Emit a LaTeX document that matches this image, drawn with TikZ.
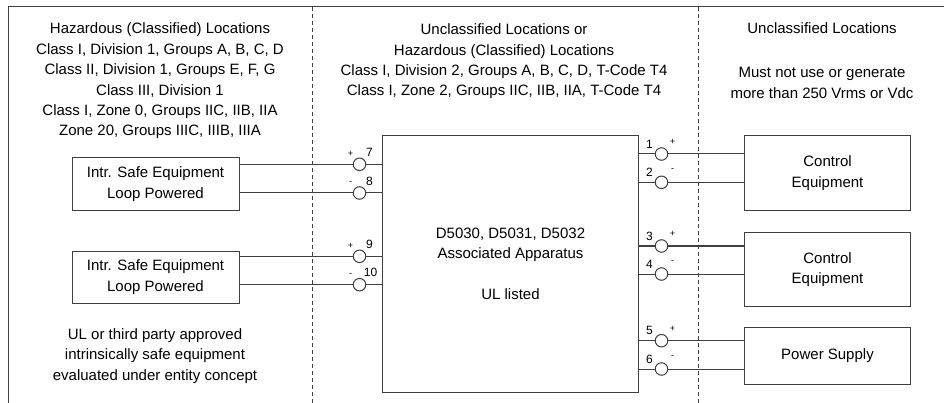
\documentclass[tikz,border=0pt]{standalone}
\usepackage{fontspec}
\setmainfont{Liberation Sans}
\usetikzlibrary{positioning}

\begin{document}
\begin{tikzpicture}[x=1pt, y=-1pt, line width=1pt,
    wire/.style={draw=black!75},
    txt/.style={align=center, inner sep=0pt, font=\fontsize{15}{20.4}\selectfont},
    equip/.style={draw=black!75, align=center, inner sep=0pt, font=\fontsize{15}{20.4}\selectfont},
    term/.style={circle, draw=black!75, fill=white, minimum size=12.5pt, inner sep=0pt},
    num/.style={inner sep=0pt, font=\fontsize{12}{12}\selectfont},
    sgn/.style={inner sep=0pt, font=\fontsize{9}{9}\selectfont}]

    % Frame
    \useasboundingbox (0,0) rectangle (944,403);
    \draw[black!75] (944,7) -- (8,7) -- (8,403);
    \draw[black!75, dash pattern=on 4pt off 3pt] (312,7) -- (312,403);
    \draw[black!75, dash pattern=on 4pt off 3pt] (698,7) -- (698,403);

    % Headers
    \node[txt] (hazard) at (160,81) {Hazardous (Classified) Locations\\Class I, Division 1, Groups A, B, C, D\\Class II, Division 1, Groups E, F, G\\Class III, Division 1\\Class I, Zone 0, Groups IIC, IIB, IIA\\Zone 20, Groups IIIC, IIIB, IIIA};
    \node[txt] (div2) at (504,61.5) {Unclassified Locations or\\Hazardous (Classified) Locations\\Class I, Division 2, Groups A, B, C, D, T-Code T4\\Class I, Zone 2, Groups IIC, IIB, IIA, T-Code T4};
    \node[txt] (unclass) at (822,28.5) {Unclassified Locations};
    \node[txt] (limit) at (822,83) {Must not use or generate\\more than 250 Vrms or Vdc};

    % Associated apparatus
    \node[equip, minimum width=255.6pt, minimum height=256.3pt] (app) at (510.5,263.9) {D5030, D5031, D5032\\Associated Apparatus\\[20.4pt]UL listed};

    % Field side
    \node[equip, minimum width=167pt, minimum height=52.7pt] (isA) at (155.5,184.3) {Intr. Safe Equipment\\Loop Powered};
    \node[equip, minimum width=167pt, minimum height=52.3pt] (isB) at (155.5,277.2) {Intr. Safe Equipment\\Loop Powered};
    \node[txt] (note) at (155,356) {UL or third party approved\\intrinsically safe equipment\\evaluated under entity concept};

    % Safe side
    \node[equip, minimum width=166.4pt, minimum height=74.6pt] (ctrlA) at (827.5,173) {Control\\Equipment};
    \node[equip, minimum width=166.4pt, minimum height=74pt] (ctrlB) at (827.5,269.7) {Control\\Equipment};
    \node[equip, minimum width=166.4pt, minimum height=57pt] (psu) at (827.5,355.8) {Power Supply};

    % Terminals 7..10
    \node[term] (t7) at (359.5,164.3) {};
    \node[term] (t8) at (359.5,193) {};
    \node[term] (t9) at (359.5,256.3) {};
    \node[term] (t10) at (359.5,284.7) {};
    \draw[wire] (isA.east |- t7) -- (t7.west);
    \draw[wire] (t7.east) -- (t7 -| app.west);
    \draw[wire] (isA.east |- t8) -- (t8.west);
    \draw[wire] (t8.east) -- (t8 -| app.west);
    \draw[wire] (isB.east |- t9) -- (t9.west);
    \draw[wire] (t9.east) -- (t9 -| app.west);
    \draw[wire] (isB.east |- t10) -- (t10.west);
    \draw[wire] (t10.east) -- (t10 -| app.west);
    \node[sgn] at ([shift={(-9,-10)}]t7.center) {+};
    \node[num] at ([shift={(10,-12)}]t7.center) {7};
    \node[sgn] at ([shift={(-9,-10)}]t8.center) {-};
    \node[num] at ([shift={(10,-12)}]t8.center) {8};
    \node[sgn] at ([shift={(-9,-10)}]t9.center) {+};
    \node[num] at ([shift={(10,-12)}]t9.center) {9};
    \node[sgn] at ([shift={(-9,-10)}]t10.center) {-};
    \node[num] at ([shift={(11,-12)}]t10.center) {10};

    % Terminals 1..6
    \node[term] (t1) at (661.5,154) {};
    \node[term] (t2) at (661.5,182.3) {};
    \node[term] (t3) at (661.5,246) {};
    \node[term] (t4) at (661.5,274) {};
    \node[term] (t5) at (661.5,340.7) {};
    \node[term] (t6) at (661.5,369) {};
    \draw[wire] (app.east |- t1) -- (t1.west);
    \draw[wire] (t1.east) -- (t1 -| ctrlA.west);
    \draw[wire] (app.east |- t2) -- (t2.west);
    \draw[wire] (t2.east) -- (t2 -| ctrlA.west);
    \draw[wire] (app.east |- t3) -- (t3.west);
    \draw[wire] (t3.east) -- (t3 -| ctrlB.west);
    \draw[wire] (app.east |- t4) -- (t4.west);
    \draw[wire] (t4.east) -- (t4 -| ctrlB.west);
    \draw[wire] (app.east |- t5) -- (t5.west);
    \draw[wire] (t5.east) -- (t5 -| psu.west);
    \draw[wire] (app.east |- t6) -- (t6.west);
    \draw[wire] (t6.east) -- (t6 -| psu.west);
    \node[num] at ([shift={(-12,-10)}]t1.center) {1};
    \node[sgn] at ([shift={(11,-12)}]t1.center) {+};
    \node[num] at ([shift={(-12,-10)}]t2.center) {2};
    \node[sgn] at ([shift={(11,-12)}]t2.center) {-};
    \node[num] at ([shift={(-12,-10)}]t3.center) {3};
    \node[sgn] at ([shift={(11,-12)}]t3.center) {+};
    \node[num] at ([shift={(-12,-10)}]t4.center) {4};
    \node[sgn] at ([shift={(11,-12)}]t4.center) {-};
    \node[num] at ([shift={(-12,-10)}]t5.center) {5};
    \node[sgn] at ([shift={(11,-12)}]t5.center) {+};
    \node[num] at ([shift={(-12,-10)}]t6.center) {6};
    \node[sgn] at ([shift={(11,-12)}]t6.center) {-};

\end{tikzpicture}
\end{document}
